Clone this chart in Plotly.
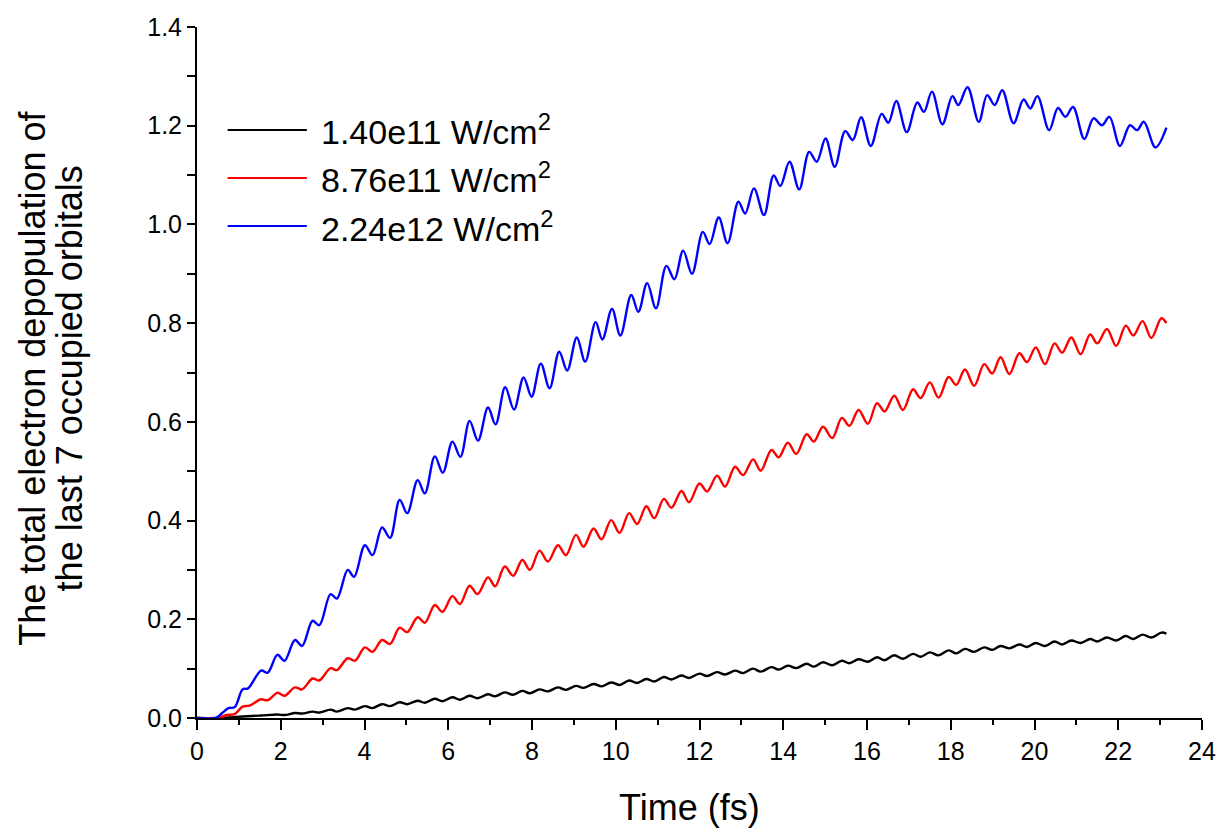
import plotly.graph_objects as go

# ---- data (peaks / troughs of each curve) ----
t_black = [0.0, 0.5, 1.09, 1.53, 1.92, 2.09, 2.34, 2.51, 2.76, 2.92, 3.19, 3.34, 3.60, 3.77,
           4.01, 4.19, 4.42, 4.61, 4.84, 5.02, 5.27, 5.44, 5.68, 5.86, 6.10, 6.28, 6.51, 6.70,
           6.95, 7.12, 7.35, 7.55, 7.77, 7.95, 8.18, 8.38, 8.62, 8.81, 9.05, 9.23, 9.47, 9.66,
           9.89, 10.09, 10.32, 10.51, 10.73, 10.92, 11.15, 11.33, 11.57, 11.75, 12.00, 12.18,
           12.42, 12.61, 12.85, 13.04, 13.28, 13.46, 13.72, 13.89, 14.11, 14.31, 14.56, 14.73,
           14.95, 15.17, 15.40, 15.58, 15.80, 16.02, 16.24, 16.42, 16.65, 16.86, 17.10, 17.28,
           17.50, 17.71, 17.95, 18.13, 18.34, 18.56, 18.80, 18.99, 19.19, 19.40, 19.64, 19.82,
           20.03, 20.25, 20.48, 20.66, 20.88, 21.10, 21.33, 21.50, 21.73, 21.95, 22.18, 22.36,
           22.58, 22.79, 23.03, 23.15]
v_black = [0.0, 0.0, 0.003, 0.005, 0.007, 0.006, 0.010, 0.009, 0.013, 0.011, 0.017, 0.013, 0.020, 0.017,
           0.024, 0.020, 0.028, 0.024, 0.032, 0.028, 0.035, 0.031, 0.039, 0.034, 0.042, 0.037, 0.045, 0.040,
           0.048, 0.044, 0.052, 0.047, 0.055, 0.050, 0.058, 0.054, 0.062, 0.057, 0.065, 0.061, 0.069, 0.064,
           0.072, 0.067, 0.076, 0.071, 0.079, 0.074, 0.083, 0.078, 0.086, 0.081, 0.090, 0.085,
           0.093, 0.088, 0.096, 0.091, 0.100, 0.094, 0.103, 0.098, 0.106, 0.101, 0.110, 0.104,
           0.113, 0.107, 0.116, 0.111, 0.119, 0.114, 0.123, 0.117, 0.127, 0.120, 0.130, 0.124,
           0.133, 0.127, 0.137, 0.131, 0.140, 0.134, 0.143, 0.138, 0.146, 0.141, 0.149, 0.144,
           0.152, 0.146, 0.155, 0.149, 0.157, 0.152, 0.160, 0.155, 0.163, 0.157, 0.166, 0.160,
           0.169, 0.163, 0.173, 0.171]

t_red = [0.0, 0.5, 0.7, 0.9, 1.09, 1.25, 1.53, 1.69, 1.92, 2.09, 2.34, 2.51, 2.76, 2.92, 3.19, 3.34,
         3.60, 3.77, 4.01, 4.19, 4.42, 4.61, 4.84, 5.02, 5.27, 5.44, 5.68, 5.86, 6.10, 6.28, 6.51, 6.70,
         6.95, 7.12, 7.35, 7.55, 7.77, 7.95, 8.18, 8.38, 8.62, 8.81, 9.05, 9.23, 9.47, 9.66, 9.89, 10.09,
         10.32, 10.51, 10.73, 10.92, 11.15, 11.33, 11.57, 11.75, 12.00, 12.18, 12.42, 12.61, 12.85, 13.04,
         13.28, 13.46, 13.72, 13.89, 14.11, 14.31, 14.56, 14.73, 14.95, 15.17, 15.40, 15.58, 15.80, 16.02,
         16.24, 16.42, 16.65, 16.86, 17.10, 17.28, 17.50, 17.71, 17.95, 18.13, 18.34, 18.56, 18.80, 18.99,
         19.19, 19.40, 19.64, 19.82, 20.03, 20.25, 20.48, 20.66, 20.88, 21.10, 21.33, 21.50, 21.73, 21.95,
         22.18, 22.36, 22.58, 22.79, 23.03, 23.15]
v_red = [0.0, 0.0, 0.006, 0.008, 0.023, 0.025, 0.038, 0.036, 0.051, 0.045, 0.062, 0.058, 0.080, 0.076, 0.101, 0.097,
         0.121, 0.116, 0.143, 0.134, 0.158, 0.150, 0.183, 0.174, 0.204, 0.193, 0.229, 0.215, 0.247, 0.231, 0.268, 0.251,
         0.285, 0.267, 0.307, 0.288, 0.320, 0.300, 0.339, 0.317, 0.350, 0.330, 0.371, 0.347, 0.384, 0.362, 0.401, 0.375,
         0.415, 0.393, 0.429, 0.405, 0.444, 0.426, 0.460, 0.437, 0.475, 0.459, 0.491, 0.469, 0.509, 0.492,
         0.524, 0.501, 0.543, 0.528, 0.558, 0.535, 0.575, 0.560, 0.590, 0.567, 0.608, 0.592, 0.624, 0.596,
         0.638, 0.621, 0.653, 0.624, 0.666, 0.648, 0.680, 0.649, 0.691, 0.675, 0.706, 0.673, 0.717, 0.698,
         0.731, 0.697, 0.739, 0.721, 0.751, 0.717, 0.759, 0.740, 0.771, 0.737, 0.777, 0.759, 0.788, 0.754,
         0.795, 0.775, 0.804, 0.770, 0.810, 0.800]

t_blue = [0.0, 0.45, 0.6, 0.75, 0.9, 1.09, 1.22, 1.53, 1.69, 1.92, 2.09, 2.34, 2.51, 2.76, 2.92, 3.19, 3.34,
          3.60, 3.75, 4.01, 4.19, 4.42, 4.61, 4.84, 5.02, 5.27, 5.44, 5.68, 5.87, 6.10, 6.29, 6.51, 6.71,
          6.95, 7.13, 7.36, 7.57, 7.80, 7.99, 8.21, 8.42, 8.65, 8.84, 9.07, 9.27, 9.52, 9.68, 9.91, 10.11,
          10.37, 10.54, 10.75, 10.96, 11.21, 11.40, 11.61, 11.82, 12.08, 12.24, 12.46, 12.67, 12.93, 13.09,
          13.30, 13.54, 13.77, 13.93, 14.15, 14.38, 14.62, 14.80, 15.01, 15.23, 15.48, 15.66, 15.86, 16.09,
          16.35, 16.51, 16.70, 16.95, 17.20, 17.36, 17.55, 17.80, 18.04, 18.18, 18.40, 18.67, 18.87, 19.05,
          19.23, 19.50, 19.74, 19.90, 20.07, 20.35, 20.56, 20.74, 20.92, 21.19, 21.41, 21.61, 21.79, 22.04,
          22.28, 22.45, 22.61, 22.89, 23.15]
v_blue = [0.0, 0.0, 0.010, 0.020, 0.022, 0.058, 0.060, 0.096, 0.092, 0.128, 0.116, 0.158, 0.146, 0.197, 0.188, 0.251, 0.242,
          0.300, 0.286, 0.350, 0.330, 0.386, 0.365, 0.442, 0.415, 0.482, 0.455, 0.530, 0.497, 0.560, 0.529, 0.602, 0.562,
          0.629, 0.595, 0.670, 0.625, 0.690, 0.651, 0.718, 0.668, 0.742, 0.704, 0.771, 0.722, 0.802, 0.767, 0.829, 0.775,
          0.857, 0.823, 0.881, 0.830, 0.916, 0.889, 0.947, 0.900, 0.985, 0.960, 1.014, 0.962, 1.046, 1.022,
          1.073, 1.019, 1.099, 1.078, 1.127, 1.071, 1.147, 1.127, 1.174, 1.117, 1.189, 1.171, 1.217, 1.159,
          1.224, 1.206, 1.250, 1.187, 1.247, 1.228, 1.269, 1.203, 1.260, 1.242, 1.278, 1.208, 1.262, 1.242,
          1.272, 1.205, 1.253, 1.235, 1.260, 1.191, 1.236, 1.218, 1.238, 1.173, 1.215, 1.201, 1.218, 1.159,
          1.201, 1.191, 1.208, 1.156, 1.196]

series_names = ["1.40e11 W/cm<sup>2</sup>", "8.76e11 W/cm<sup>2</sup>", "2.24e12 W/cm<sup>2</sup>"]
series_colors = ["#000000", "#ff0000", "#0000ff"]
x_ticks = [0, 2, 4, 6, 8, 10, 12, 14, 16, 18, 20, 22, 24]
y_ticks = [0.0, 0.2, 0.4, 0.6, 0.8, 1.0, 1.2, 1.4]
x_title = "Time (fs)"
y_title_lines = ["The total electron depopulation of", "the last 7 occupied orbitals"]

FONT = "Liberation Sans, Arial, sans-serif"

fig = go.Figure()
for t, v, name, col in zip([t_black, t_red, t_blue], [v_black, v_red, v_blue], series_names, series_colors):
    fig.add_trace(go.Scatter(x=t, y=v, mode="lines", name=name,
                             line=dict(color=col, width=2.4, shape="spline", smoothing=1.0),
                             showlegend=False))

# custom legend (long line samples like the original)
leg_y = [0.851, 0.7815, 0.712]
for yy, name, col in zip(leg_y, series_names, series_colors):
    fig.add_shape(type="line", xref="paper", yref="paper", x0=0.0305, x1=0.1093, y0=yy, y1=yy,
                  line=dict(color=col, width=2))
    fig.add_annotation(xref="paper", yref="paper", x=0.121, y=yy, text=name, showarrow=False,
                       xanchor="left", yanchor="middle", font=dict(family=FONT, size=34, color="black"))

fig.add_annotation(xref="paper", yref="paper", x=0.49, y=-0.130, text=x_title, showarrow=False,
                   xanchor="center", yanchor="middle", font=dict(family=FONT, size=36, color="black"))
for xx, line in zip([-0.1644, -0.127], y_title_lines):
    fig.add_annotation(xref="paper", yref="paper", x=xx, y=0.492, text=line,
                       showarrow=False, textangle=-90, xanchor="center", yanchor="middle",
                       font=dict(family=FONT, size=36, color="black"))

fig.update_layout(
    width=1228, height=833,
    margin=dict(l=197, r=15, t=27, b=115),
    paper_bgcolor="white", plot_bgcolor="white",
    font=dict(family=FONT, size=25, color="black"),
    xaxis=dict(range=[0, 24], tickvals=x_ticks, ticktext=[str(x) for x in x_ticks],
               ticks="outside", ticklen=10, tickwidth=2, tickcolor="black",
               showline=True, linecolor="black", linewidth=2, showgrid=False, zeroline=False,
               minor=dict(dtick=1, ticks="outside", ticklen=5, tickwidth=2, tickcolor="black", showgrid=False),
               tickfont=dict(family=FONT, size=25)),
    yaxis=dict(range=[0, 1.4], tickvals=y_ticks, ticktext=["%.1f" % y for y in y_ticks],
               ticks="outside", ticklen=8, tickwidth=2, tickcolor="black",
               showline=True, linecolor="black", linewidth=2, showgrid=False, zeroline=False,
               minor=dict(dtick=0.1, ticks="outside", ticklen=8, tickwidth=2, tickcolor="black", showgrid=False),
               tickfont=dict(family=FONT, size=25)),
)

fig.write_html("out.html")
